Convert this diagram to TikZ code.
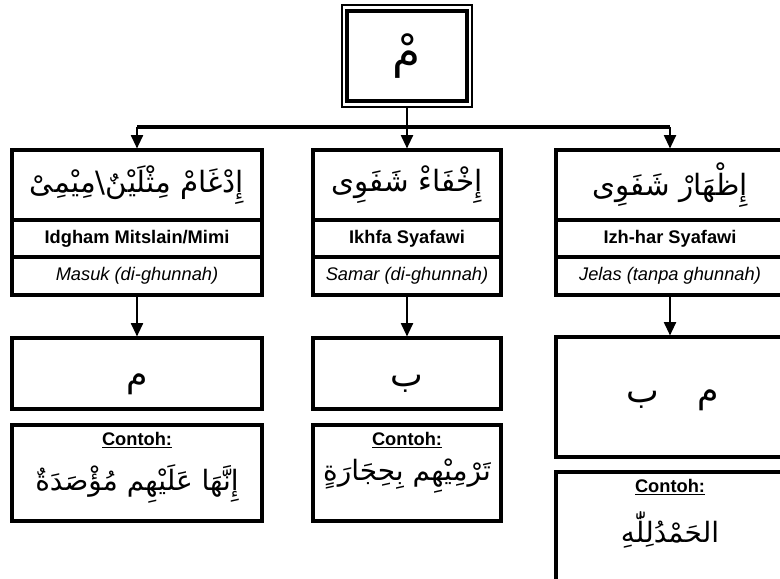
\documentclass[tikz,border=0pt]{standalone}
\usepackage{fontspec}
\setmainfont{Liberation Sans}
\newfontfamily\arabicfont[Script=Arabic]{DejaVu Sans}
\TeXXeTstate=1
\usetikzlibrary{arrows.meta}

\begin{document}
\begin{tikzpicture}[x=0.75pt, y=-0.75pt,
    box/.style={draw, line width=2.3pt, inner sep=0pt, align=center},
    titlebox/.style={box, minimum height=52.5pt, font=\arabicfont\fontsize{22}{24}\selectfont},
    namebox/.style={box, minimum height=27.75pt, font=\bfseries\fontsize{13.7}{15}\selectfont},
    notebox/.style={box, minimum height=28.5pt, font=\itshape\fontsize{13.7}{15}\selectfont},
    letterbox/.style={box, minimum height=53.25pt},
    contoh/.style={box, minimum height=72pt},
    lbl/.style={inner sep=0pt, font=\bfseries\fontsize{13.7}{15}\selectfont},
    arab/.style={inner sep=0pt, font=\arabicfont\fontsize{21}{23}\selectfont},
    letter/.style={inner sep=0pt, font=\arabicfont\fontsize{26}{28}\selectfont},
    arr/.style={-{Triangle[width=9pt,length=10pt]}, line width=1.5pt},
    bus/.style={line width=2.4pt}
]
\clip (0,0) rectangle (780,578);

% mim sukun
\node[draw, line width=1.2pt, minimum width=97.5pt, minimum height=76.5pt] (mimframe) at (407,56) {};
\node[box, minimum width=90pt, minimum height=67.5pt, font=\arabicfont\fontsize{34}{36}\selectfont] (mim) at (407,56) {\beginR مْ\endR};

% left column
\node[titlebox, minimum width=187.5pt] (t1) at (137,185) {\beginR إِدْغَامْ مِثْلَيْنٌ\textbackslash مِيْمِىْ\endR};
\node[namebox, minimum width=187.5pt] (m1) at (137,238.5) {Idgham Mitslain/Mimi};
\node[notebox, minimum width=187.5pt] (n1) at (137,276) {Masuk (di-ghunnah)};
\node[letterbox, minimum width=187.5pt] (l1) at (137,373.5) {};
\node[letter] (l1a) at (137,384) {\beginR م\endR};
\node[contoh, minimum width=187.5pt] (c1) at (137,473) {};
\node[lbl] (c1h) at (137,440) {\underline{Contoh:}};
\node[arab] (c1a) at (137,484) {\beginR إِنَّهَا عَلَيْهِم مُؤْصَدَةٌ\endR};

% middle column
\node[titlebox, minimum width=141pt] (t2) at (407,185) {\beginR إِخْفَاءْ شَفَوِى\endR};
\node[namebox, minimum width=141pt] (m2) at (407,238.5) {Ikhfa Syafawi};
\node[notebox, minimum width=141pt] (n2) at (407,276) {Samar (di-ghunnah)};
\node[letterbox, minimum width=141pt] (l2) at (407,373.5) {};
\node[letter] (l2a) at (407,384) {\beginR ب\endR};
\node[contoh, minimum width=141pt] (c2) at (407,473) {};
\node[lbl] (c2h) at (407,440) {\underline{Contoh:}};
\node[arab] (c2a) at (407,476) {\beginR تَرْمِيْهِم بِحِجَارَةٍ\endR};

% right column
\node[titlebox, minimum width=171pt] (t3) at (670,185) {\beginR إِظْهَارْ شَفَوِى\endR};
\node[namebox, minimum width=171pt] (m3) at (670,238.5) {Izh-har Syafawi};
\node[notebox, minimum width=171pt] (n3) at (670,276) {Jelas (tanpa ghunnah)};
\node[letterbox, minimum width=171pt, minimum height=90pt] (l3) at (670,397) {};
\node[letter] (l3a) at (673,400) {\beginR م\hspace{1.1em}ب\endR};
\node[box, minimum width=171pt, minimum height=97.5pt] (c3) at (670,537) {};
\node[lbl] (c3h) at (670,487) {\underline{Contoh:}};
\node[arab] (c3a) at (670,530) {\beginR الحَمْدُلِلّٰهِ\endR};

% connectors
\coordinate (split) at (407,127);
\draw[arr] (mimframe) -- (t2);
\draw[bus] (split -| t1) -- (split -| t3);
\draw[arr] (split -| t1) -- (t1);
\draw[arr] (split -| t3) -- (t3);
\draw[arr] (n1) -- (l1);
\draw[arr] (n2) -- (l2);
\draw[arr] (n3) -- (l3);

\end{tikzpicture}
\end{document}
